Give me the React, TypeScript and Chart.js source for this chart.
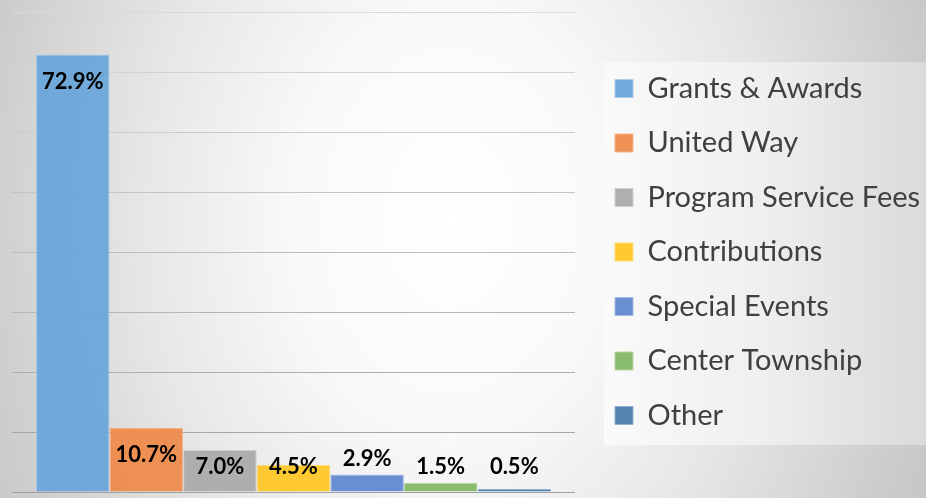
import { useEffect, useRef } from 'react';
import { Chart, registerables } from 'chart.js';

Chart.register(...registerables);

const categories = [''];
const seriesNames = [
  'Grants & Awards',
  'United Way',
  'Program Service Fees',
  'Contributions',
  'Special Events',
  'Center Township',
  'Other',
];
const seriesValues = [72.9, 10.7, 7.0, 4.5, 2.9, 1.5, 0.5];
const valueLabels = ['72.9%', '10.7%', '7.0%', '4.5%', '2.9%', '1.5%', '0.5%'];
const fillColors = [
  'rgba(108,165,218,0.95)',
  'rgba(238,138,75,0.95)',
  'rgba(171,171,171,0.95)',
  'rgba(255,198,40,0.95)',
  'rgba(97,137,208,0.95)',
  'rgba(131,184,101,0.95)',
  'rgba(74,125,174,0.95)',
];
const edgeColors = ['#a9cbea', '#f4b58c', '#cfcfcf', '#ffdc80', '#a3b8e3', '#b6d6a3', '#8fb0d0'];
const yMin = 0;
const yMax = 80;
const yStep = 10;

const panelPlugin = {
  id: 'legendPanel',
  beforeDraw(chart: any) {
    const lg = chart.legend;
    if (!lg || !lg.legendHitBoxes || !lg.legendHitBoxes.length) return;
    const hb = lg.legendHitBoxes;
    const first = hb[0];
    const last = hb[hb.length - 1];
    const left = first.left - 11;
    const top = first.top - 12;
    const bottom = last.top + last.height + 15;
    const right = chart.width;
    const ctx = chart.ctx;
    ctx.save();
    const g = ctx.createLinearGradient(left, 0, right, 0);
    g.addColorStop(0, '#fafafa');
    g.addColorStop(0.5, '#efefef');
    g.addColorStop(1, '#dadada');
    ctx.fillStyle = g;
    ctx.fillRect(left, top, right - left, bottom - top);
    ctx.restore();
  },
};

const labelPlugin = {
  id: 'barValueLabels',
  afterDatasetsDraw(chart: any) {
    const ctx = chart.ctx;
    const base = chart.scales.y.getPixelForValue(0);
    ctx.save();
    ctx.font = 'bold 22px Lato';
    ctx.fillStyle = '#000000';
    ctx.textAlign = 'center';
    ctx.textBaseline = 'middle';
    chart.data.datasets.forEach((_ds: any, i: number) => {
      const bar = chart.getDatasetMeta(i).data[0];
      if (!bar) return;
      const top = bar.y;
      const h = base - top;
      const floor = base - 25.5;
      const y = h >= 25 ? Math.min(top + 27, floor) : Math.min(top - 16, floor);
      ctx.fillText(valueLabels[i], bar.x, y);
    });
    ctx.restore();
  },
};

function gridColor(v: number) {
  const t = (yMax - v) / (yMax - yMin);
  const c = Math.round(217 - t * 57);
  return `rgb(${c},${c},${c})`;
}

export default function App() {
  const ref = useRef<HTMLCanvasElement | null>(null);

  useEffect(() => {
    if (!ref.current) return;
    const chart = new Chart(ref.current, {
      type: 'bar',
      data: {
        labels: categories,
        datasets: seriesNames.map((name, i) => ({
          label: name,
          data: [seriesValues[i]],
          backgroundColor: fillColors[i],
          borderColor: edgeColors[i],
          borderWidth: 1,
          categoryPercentage: 0.915,
          barPercentage: 1.0,
        })),
      },
      options: {
        responsive: true,
        maintainAspectRatio: false,
        animation: false,
        layout: { padding: { left: 12, top: 12, bottom: 6, right: 0 } },
        scales: {
          x: { display: false },
          y: {
            position: 'right',
            min: yMin,
            max: yMax,
            ticks: { display: false, stepSize: yStep },
            border: { display: false },
            grid: {
              drawTicks: false,
              lineWidth: 1,
              color: (c: any) => gridColor(c.tick ? c.tick.value : 0),
            },
            afterFit: (s: any) => {
              s.width = 14.5;
            },
          },
        },
        plugins: {
          tooltip: { enabled: false },
          legend: {
            position: 'right',
            maxWidth: 336.5,
            labels: {
              boxWidth: 18,
              boxHeight: 18,
              padding: 25.5,
              color: '#404040',
              font: { family: 'Lato', size: 29 },
            },
          },
        },
      } as any,
      plugins: [panelPlugin, labelPlugin],
    });
    return () => chart.destroy();
  }, []);

  return (
    <div
      style={{
        position: 'fixed',
        left: 0,
        top: 0,
        width: 926,
        height: 498,
        background:
          'radial-gradient(ellipse 520px 700px at 450px 220px, #ffffff 0%, #f9f9f9 30%, #e6e6e6 60%, #cdcdcd 90%, #c6c6c6 100%)',
      }}
    >
      <canvas ref={ref} style={{ display: 'block' }} />
    </div>
  );
}
